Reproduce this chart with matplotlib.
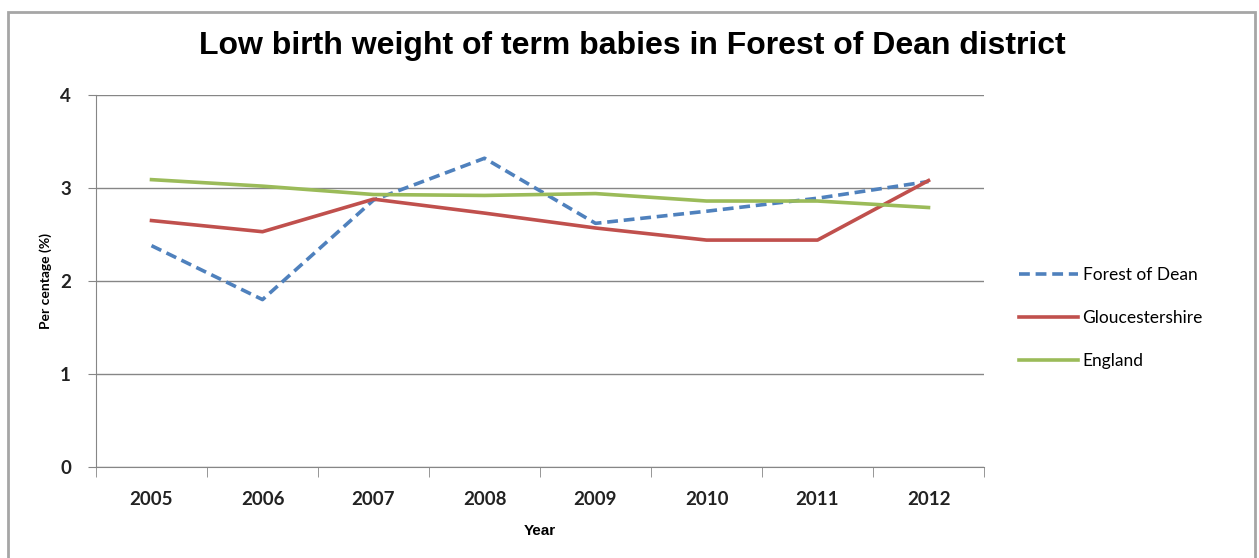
import numpy as np
import matplotlib
matplotlib.use("Agg")
import matplotlib.pyplot as plt
from matplotlib.patches import Rectangle

# Data
years = ["2005", "2006", "2007", "2008", "2009", "2010", "2011", "2012"]
forest_of_dean = [2.38, 1.80, 2.87, 3.32, 2.62, 2.75, 2.89, 3.07]
gloucestershire = [2.65, 2.53, 2.88, 2.73, 2.57, 2.44, 2.44, 3.08]
england = [3.09, 3.02, 2.93, 2.92, 2.94, 2.86, 2.86, 2.79]

W, H = 1259, 558
fig = plt.figure(figsize=(W / 100, H / 100), dpi=100)
ax = fig.add_axes([96 / W, 1 - 467 / H, (984 - 96) / W, (467 - 95) / H])

x = np.arange(len(years))
ax.plot(x, forest_of_dean, color="#4F81BD", lw=2.6, ls=(0, (3, 1.6)), label="Forest of Dean")
ax.plot(x, gloucestershire, color="#C0504D", lw=2.6, label="Gloucestershire")
ax.plot(x, england, color="#9BBB59", lw=2.6, label="England")

ax.set_xlim(-0.5, len(years) - 0.5)
ax.set_ylim(0, 4)
ax.set_yticks([0, 1, 2, 3, 4])
ax.set_xticks(x)
ax.set_xticklabels(years)
ax.set_xticks(np.arange(-0.5, len(years)), minor=True)
ax.tick_params(axis="x", which="major", length=0, pad=17)
ax.tick_params(axis="x", which="minor", length=7, color="#868686", direction="out")
ax.tick_params(axis="y", length=6, color="#868686", direction="out", pad=12)
for lab in ax.get_xticklabels() + ax.get_yticklabels():
    lab.set_fontfamily("Lato")
    lab.set_fontweight("bold")
    lab.set_fontsize(13.5)
    lab.set_color("#222222")

ax.grid(axis="y", color="#868686", lw=1)
ax.set_axisbelow(True)
for s in ["top", "right"]:
    ax.spines[s].set_visible(False)
for s in ["left", "bottom"]:
    ax.spines[s].set_color("#868686")

ax.set_xlabel("Year", fontfamily="Liberation Sans", fontweight="bold", fontsize=11, labelpad=12)
ax.set_ylabel("Per centage (%)", fontfamily="Lato", fontweight="bold", fontsize=10, labelpad=6)

fig.text(632 / W, 1 - 46 / H, "Low birth weight of term babies in Forest of Dean district",
         ha="center", va="center", fontsize=23, fontfamily="Liberation Sans", fontweight="bold")

leg = ax.legend(loc="center left", bbox_to_anchor=(1.022, 0.40), frameon=False,
                prop={"family": "Lato", "size": 12.5}, handlelength=3.4,
                handletextpad=0.25, labelspacing=1.55)

fig.patches.append(Rectangle((8 / W, -0.01), (1255 - 8) / W, 1 - 12 / H + 0.01,
                             transform=fig.transFigure, fill=False,
                             edgecolor="#A6A6A6", lw=2))

fig.savefig("out.png", dpi=100)
